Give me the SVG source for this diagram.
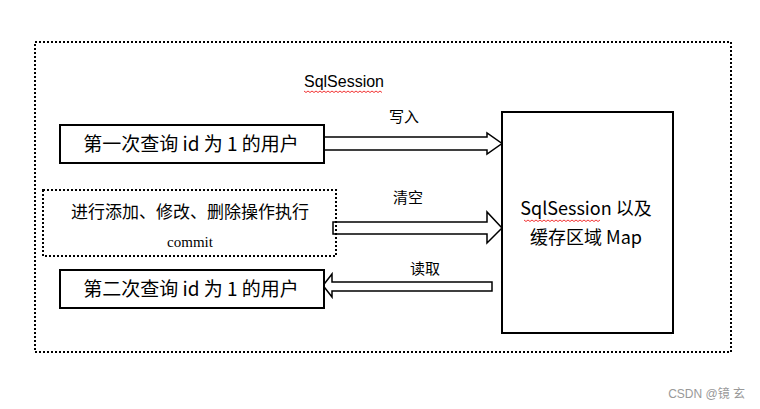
<svg xmlns="http://www.w3.org/2000/svg" width="760" height="409" viewBox="0 0 760 409">
<defs>
<style>
.cjk{font-family:"Noto Sans CJK SC","Liberation Sans",sans-serif;fill:#000}
.sans{font-family:"Liberation Sans","Noto Sans CJK SC",sans-serif;fill:#000}
.box{fill:#fff;stroke:#000;stroke-width:2}
.dot{fill:none;stroke:#000;stroke-width:2;stroke-dasharray:2 2}
.arrow{fill:#fff;stroke:#000;stroke-width:1.5;stroke-linejoin:miter}
.squig{fill:none;stroke:#e00;stroke-width:0.8}
</style>
</defs>
<rect width="760" height="409" fill="#fff"/>
<g id="frame">
<rect class="dot" x="35" y="42" width="696" height="310"/>
<text class="sans" x="344" y="87" font-size="16" text-anchor="middle">SqlSession</text>
<path class="squig" d="M304 91 l2 1.5 l2 -1.5 l2 1.5 l2 -1.5 l2 1.5 l2 -1.5 l2 1.5 l2 -1.5 l2 1.5 l2 -1.5 l2 1.5 l2 -1.5 l2 1.5 l2 -1.5 l2 1.5 l2 -1.5 l2 1.5 l2 -1.5 l2 1.5 l2 -1.5 l2 1.5 l2 -1.5 l2 1.5 l2 -1.5 l2 1.5 l2 -1.5 l2 1.5 l2 -1.5 l2 1.5 l2 -1.5 l2 1.5 l2 -1.5 l2 1.5 l2 -1.5 l2 1.5 l2 -1.5 l2 1.5 l2 -1.5 l2 1.5"/>
</g>
<g id="connectors">
<path class="arrow" d="M324 137 H487 V133 L502 143.5 L487 154 V150 H324 Z"/>
<text class="cjk" x="404" y="122" font-size="15" text-anchor="middle">写入</text>
<path class="arrow" d="M333 222 H487 V212 L502 228 L487 243 V234 H333 Z"/>
<text class="cjk" x="408" y="203" font-size="15" text-anchor="middle">清空</text>
<path class="arrow" d="M492 282 H332 V274 L323 285.5 L332 297 V291 H492 Z"/>
<text class="cjk" x="425" y="274" font-size="15" text-anchor="middle">读取</text>
</g>
<g id="query1">
<rect class="box" x="60" y="125" width="264" height="38"/>
<text class="cjk" x="191" y="151" font-size="19" text-anchor="middle">第一次查询 id 为 1 的用户</text>
</g>
<g id="modify">
<rect class="dot" x="43" y="190" width="293" height="66"/>
<text class="cjk" x="190" y="218" font-size="17" text-anchor="middle">进行添加、修改、删除操作执行</text>
<text x="190" y="247" font-size="15" text-anchor="middle" font-family="Liberation Serif,serif">commit</text>
</g>
<g id="query2">
<rect class="box" x="60" y="270" width="264" height="38"/>
<text class="cjk" x="191" y="296" font-size="19" text-anchor="middle">第二次查询 id 为 1 的用户</text>
</g>
<g id="cache">
<rect class="box" x="502" y="112" width="171" height="221"/>
<text class="cjk" x="586" y="215" font-size="18" text-anchor="middle">SqlSession 以及</text>
<path class="squig" d="M524 220 l2 1.5 l2 -1.5 l2 1.5 l2 -1.5 l2 1.5 l2 -1.5 l2 1.5 l2 -1.5 l2 1.5 l2 -1.5 l2 1.5 l2 -1.5 l2 1.5 l2 -1.5 l2 1.5 l2 -1.5 l2 1.5 l2 -1.5 l2 1.5 l2 -1.5 l2 1.5 l2 -1.5 l2 1.5 l2 -1.5 l2 1.5 l2 -1.5 l2 1.5 l2 -1.5 l2 1.5 l2 -1.5 l2 1.5 l2 -1.5 l2 1.5 l2 -1.5 l2 1.5 l2 -1.5 l2 1.5 l2 -1.5"/>
<text class="cjk" x="586" y="244" font-size="18" text-anchor="middle">缓存区域 Map</text>
</g>
<text x="745" y="398" font-size="12" text-anchor="end" fill="#999" font-family="Liberation Sans,Noto Sans CJK SC,sans-serif">CSDN @镜 玄</text>
</svg>
